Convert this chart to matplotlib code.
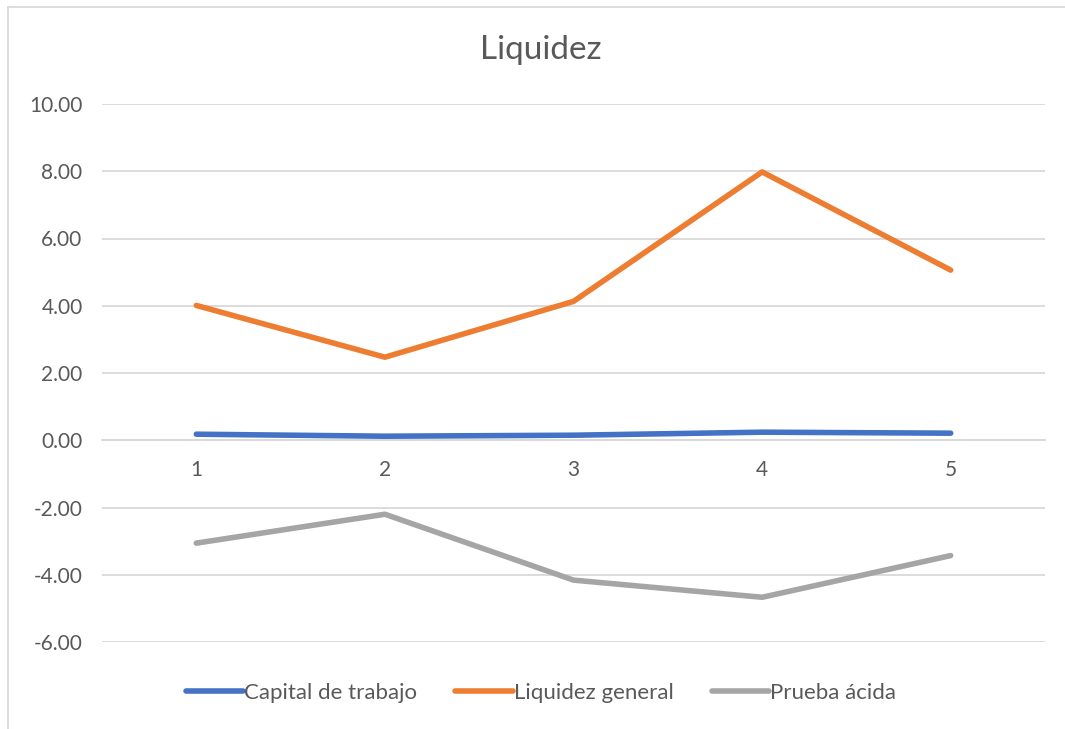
import matplotlib
matplotlib.use("Agg")
import matplotlib.pyplot as plt
from matplotlib.lines import Line2D

categories = ["1", "2", "3", "4", "5"]
capital_trabajo = [0.18, 0.12, 0.15, 0.24, 0.21]
liquidez_general = [4.01, 2.47, 4.13, 7.98, 5.06]
prueba_acida = [-3.06, -2.20, -4.16, -4.67, -3.43]
y_ticks = [-6, -4, -2, 0, 2, 4, 6, 8, 10]

plt.rcParams['font.family'] = ['Lato', 'DejaVu Sans']

W, H = 1065, 729
fig = plt.figure(figsize=(W / 100, H / 100), dpi=100)

# chart border (left and top edges visible only)
fig.add_artist(Line2D([7.5 / W, 7.5 / W], [0, 1 - 6.5 / H], transform=fig.transFigure,
                      color='#d9d9d9', linewidth=1.3))
fig.add_artist(Line2D([7.5 / W, 1], [1 - 6.5 / H, 1 - 6.5 / H], transform=fig.transFigure,
                      color='#d9d9d9', linewidth=1.3))

left, right = 102 / W, 1045 / W
top, bottom = 1 - 104 / H, 1 - 642 / H
ax = fig.add_axes([left, bottom, right - left, top - bottom])

x = list(range(1, len(categories) + 1))
grid_c = '#d9d9d9'
for v in y_ticks:
    ax.axhline(v, color=grid_c, linewidth=1.3, zorder=0)

ax.plot(x, capital_trabajo, color='#4472c4', linewidth=4, solid_capstyle='round',
        solid_joinstyle='round', label='Capital de trabajo', zorder=3)
ax.plot(x, liquidez_general, color='#ed7d31', linewidth=4, solid_capstyle='round',
        solid_joinstyle='round', label='Liquidez general', zorder=3)
ax.plot(x, prueba_acida, color='#a5a5a5', linewidth=4, solid_capstyle='round',
        solid_joinstyle='round', label='Prueba ácida', zorder=3)

ax.set_xlim(0.5, len(categories) + 0.5)
ax.set_ylim(-6, 10)
ax.set_yticks(y_ticks)
ax.set_yticklabels([f"{v:.2f}" for v in y_ticks])
ax.tick_params(axis='y', length=0, pad=14, labelsize=15, labelcolor='#595959')
ax.set_xticks(x)
ax.set_xticklabels(categories)
ax.tick_params(axis='x', length=0, pad=14, labelsize=15, labelcolor='#595959')
for s in ['top', 'right', 'left']:
    ax.spines[s].set_visible(False)
ax.spines['bottom'].set_position(('data', 0))
ax.spines['bottom'].set_color(grid_c)
ax.spines['bottom'].set_linewidth(1.3)
ax.set_facecolor('none')

fig.text(541 / W, 1 - 50 / H, "Liquidez", ha='center', va='center',
         fontsize=24, color='#595959')

handles = [Line2D([], [], color='#4472c4', linewidth=4, solid_capstyle='round'),
           Line2D([], [], color='#ed7d31', linewidth=4, solid_capstyle='round'),
           Line2D([], [], color='#a5a5a5', linewidth=4, solid_capstyle='round')]
fig.legend(handles, ['Capital de trabajo', 'Liquidez general', 'Prueba ácida'],
           loc='center', bbox_to_anchor=(541 / W, 1 - 693 / H), ncol=3,
           frameon=False, fontsize=16, labelcolor='#595959',
           handlelength=2.6, handletextpad=0.05, columnspacing=1.7)

fig.savefig('out.png', dpi=100)
